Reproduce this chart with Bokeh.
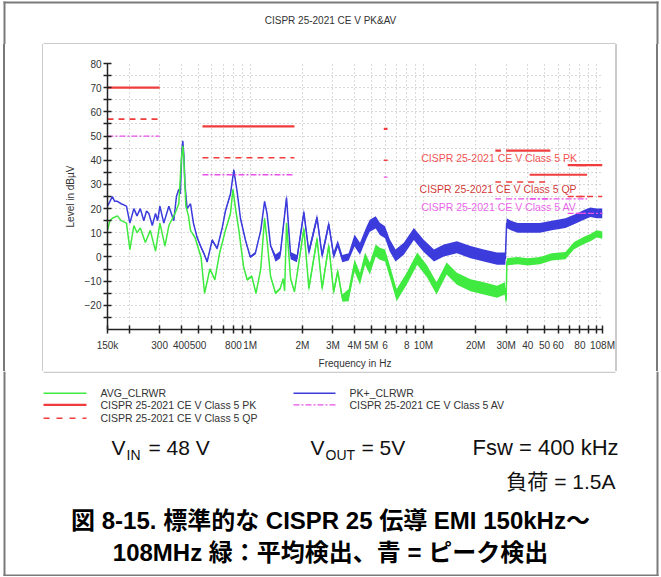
from bokeh.plotting import figure
from bokeh.models import Range1d, FixedTicker, Label, Div
from bokeh.layouts import column, row
from bokeh.core.properties import value
from bokeh.embed import file_html
from bokeh.resources import INLINE

# ---------------- data ----------------
pk_freq = [150e3,155e3,160e3,165e3,171e3,180e3,193e3,202e3,213e3,222e3,232e3,243e3,252e3,260e3,272e3,284e3,292e3,301e3,317e3,339e3,362e3,375e3,387e3,395e3,403e3,408e3,414e3,420e3,432e3,452e3,470e3,494e3,520e3,540e3,564e3,603e3,644e3,689e3,719e3,769e3,804e3,840e3,878e3,938e3,1.0e6,1.07e6,1.15e6,1.21e6,1.25e6,1.31e6,1.40e6,1.49e6,1.62e6,1.71e6,1.86e6,2.04e6,2.18e6,2.43e6,2.6e6,2.84e6,3.03e6,3.2e6,3.4e6,3.7e6,4.0e6,4.3e6,4.7e6,4.9e6,5.3e6,5.6e6,6.0e6,6.4e6,6.9e6,7.7e6,8.8e6,10.0e6,11.5e6,13.1e6,15.6e6,18.7e6,22.3e6,26.6e6,29.7e6,30.2e6,32e6,35e6,40e6,47e6,55e6,66e6,74e6,85e6,92e6,100e6,108e6]
pk_level = [21,23,25,23,23,22,21,14,20,17,20,15,19,18,13,18,15,21,14,21,15,25,28,26,44,48,42,30,20,22,14,8,4,1.5,-2,7,3.5,12,19,26,36,27,16,7,0,1.5,11,23,18,4.7,-0.5,1,24.5,0.6,-0.7,18.4,2,16.3,0.6,13.6,0.6,5.4,-0.7,0,6.8,3.4,10.2,12.9,14.3,11.6,10.2,4.7,0.6,3.4,9.5,4.7,0.6,2.7,4,2,0.6,-0.7,-0.7,14,13,12,12,12,13,14,15.5,17.5,18.5,18,18]
pk_spread = [0]*30 + [0.5]*20 + [1.5]*14 + [2.5]*19 + [2.0]*12

av_freq = [150e3,155e3,160e3,171e3,180e3,193e3,202e3,213e3,222e3,232e3,248e3,265e3,284e3,301e3,322e3,339e3,368e3,387e3,400e3,408e3,414e3,425e3,440e3,452e3,480e3,520e3,545e3,585e3,625e3,665e3,719e3,769e3,795e3,820e3,860e3,915e3,960e3,1.02e6,1.08e6,1.15e6,1.21e6,1.25e6,1.31e6,1.40e6,1.49e6,1.55e6,1.58e6,1.62e6,1.71e6,1.8e6,2.04e6,2.18e6,2.43e6,2.6e6,2.84e6,3.03e6,3.2e6,3.4e6,3.7e6,4.0e6,4.3e6,4.6e6,4.9e6,5.3e6,5.6e6,6.0e6,6.4e6,7.0e6,8.0e6,9.2e6,10.5e6,11.9e6,13.6e6,15.6e6,18.7e6,22.3e6,26.6e6,29.5e6,30.0e6,30.3e6,35e6,40e6,47e6,55e6,66e6,74e6,85e6,92e6,100e6,108e6]
av_level = [11,15,16,17,15,14,3,13,10,12,6,11,2.4,14,4.5,13,18,22,40,46,40,21,17,11,8,0,-15,-5,-9.4,1.5,11,18,28,20.6,11,-4,-9.4,-8,-15,-5,16,7,-8,-15,-13,-9,-14,14,-9,-14.4,11.6,-13,7.5,-13,4.7,-14.4,-6,-17,-15.8,-3.5,-9,-0.7,-4.8,2.7,1.3,0.6,-6,-15.8,-9,-0.7,-6,-13,-4.8,-9,-11.7,-13,-14.4,-13,-18,-2,-1.5,-2,-1.5,0,0.6,4.7,7,8,9.5,9]
av_spread = [0]*24 + [0.5]*26 + [1.5]*8 + [2.5]*21 + [1.5]*11

# limit lines (start Hz, stop Hz, dBuV)
pk_start = [150e3, 530e3, 5.9e6, 26e6, 30e6, 41e6, 68e6, 76e6]
pk_stop  = [300e3, 1.8e6, 6.2e6, 28e6, 54e6, 88e6, 87e6, 108e6]
pk_limit = [70, 54, 53, 44, 44, 34, 38, 38]
qp_start = [150e3, 530e3, 5.9e6, 26e6, 30e6, 68e6, 76e6]
qp_stop  = [300e3, 1.8e6, 6.2e6, 28e6, 54e6, 87e6, 108e6]
qp_limit = [57, 41, 40, 31, 31, 25, 25]
avl_start = [150e3, 530e3, 5.9e6, 26e6, 30e6, 41e6, 68e6, 76e6]
avl_stop  = [300e3, 1.8e6, 6.2e6, 28e6, 54e6, 88e6, 87e6, 108e6]
avl_limit = [50, 34, 33, 24, 24, 24, 18, 18]

x_ticks = [150e3,200e3,300e3,400e3,500e3,600e3,700e3,800e3,900e3,1e6,2e6,3e6,4e6,5e6,6e6,7e6,8e6,9e6,10e6,20e6,30e6,40e6,50e6,60e6,70e6,80e6,90e6,100e6,108e6]
x_tick_labels = ["150k","","300","400","500","","","800","","1M","2M","3M","4M","5M","6","","8","","10M","20M","30M","40","50","60","","80","","","108M"]
y_ticks = [-20,-10,0,10,20,30,40,50,60,70,80]
y_minor = [-25,-15,-5,5,15,25,35,45,55,65,75]

chart_title = "CISPR 25-2021 CE V PK&AV"
x_title = "Frequency in Hz"
y_title = "Level in dBµV"
lim_lab_t = ["CISPR 25-2021 CE V Class 5 PK", "CISPR 25-2021 CE V Class 5 QP", "CISPR 25-2021 CE V Class 5 AV"]
legend_names = ["AVG_CLRWR", "CISPR 25-2021 CE V Class 5 PK", "CISPR 25-2021 CE V Class 5 QP",
                "PK+_CLRWR", "CISPR 25-2021 CE V Class 5 AV"]
caption1 = "図 8-15. 標準的な CISPR 25 伝導 EMI 150kHz～"
caption2 = "108MHz 緑：平均検出、青 = ピーク検出"

GREEN = "#40ea40"
BLUE = "#3c3cdc"
RED = "#f03c3c"
DRED = "#cc2020"
MAG = "#e850e8"
TXT = "#333333"
FONT = "Liberation Sans"
CJK = "Liberation Sans, Noto Sans CJK JP"
PANEL = "#cccccc"
OUTER = "#7a7a7a"


def blank(w, h):
    f = figure(width=w, height=h, x_range=Range1d(0, w), y_range=Range1d(h, 0),
               output_backend="svg", toolbar_location=None, min_border=0,
               x_axis_location=None, y_axis_location=None)
    f.grid.visible = False
    f.outline_line_color = None
    f.background_fill_color = "white"
    f.border_fill_color = "white"
    return f


def txt(f, x, y, t, size, color=TXT, align="left", style="normal", font=FONT):
    f.text(x=[x], y=[y], text=[t], text_color=color, text_font=value(font),
           text_font_size=size, text_align=align, text_baseline="middle",
           text_font_style=style)


def seg(f, x0, y0, x1, y1, color, width=1.0, dash="solid"):
    f.segment(x0=[x0], y0=[y0], x1=[x1], y1=[y1], line_color=color,
              line_width=width, line_dash=dash)


def vstrip(w, h, lines):
    parts = ['<div style="position:relative;width:%dpx;height:%dpx;overflow:hidden;">' % (w, h)]
    for left, width, color in lines:
        parts.append('<div style="position:absolute;left:%gpx;top:0;width:%gpx;height:%dpx;background:%s;"></div>'
                     % (left, width, h, color))
    parts.append('</div>')
    return Div(text="".join(parts), width=w, height=h, margin=0)

# ---------------- top strip (page y 0..44) ----------------
top = blank(660, 44)
seg(top, 3, 2, 658, 2, OUTER, 2)
seg(top, 4, 1, 4, 44, OUTER, 2)
seg(top, 657, 1, 657, 44, OUTER, 2)
seg(top, 43, 43.3, 615, 43.3, PANEL, 1.5)
txt(top, 330, 20, chart_title, "10px", align="center")

# ---------------- side strips (page y 44..371) ----------------
lb = vstrip(43, 327, [(3, 2, OUTER), (42, 1.5, PANEL)])
rb = vstrip(45, 327, [(0, 1.5, PANEL), (41, 2, OUTER)])

# ---------------- main chart (page x 43..615) ----------------
p = figure(width=572, height=327, x_axis_type="log", output_backend="svg",
           toolbar_location=None, x_range=Range1d(150e3, 108e6), y_range=Range1d(-30, 80),
           min_border_left=64, min_border_right=13, min_border_top=19, min_border_bottom=40)
p.outline_line_color = None
p.background_fill_color = "white"
p.border_fill_color = "white"

xa = p.xaxis[0]
xa.ticker = FixedTicker(ticks=x_ticks, minor_ticks=[])
xa.major_label_overrides = {t: l for t, l in zip(x_ticks, x_tick_labels)}
ya = p.yaxis[0]
ya.ticker = FixedTicker(ticks=y_ticks, minor_ticks=y_minor)
for ax in (xa, ya):
    ax.axis_line_color = "#222222"
    ax.axis_line_width = 1.5
    ax.major_tick_line_color = "#222222"
    ax.major_tick_line_width = 1.5
    ax.major_tick_in = 4
    ax.major_tick_out = 4
    ax.minor_tick_line_color = "#222222"
    ax.minor_tick_line_width = 1.5
    ax.minor_tick_in = 4
    ax.minor_tick_out = 4
    ax.major_label_text_font = FONT
    ax.major_label_text_font_size = "10px"
    ax.major_label_text_color = TXT
    ax.axis_label_text_font = FONT
    ax.axis_label_text_font_size = "10px"
    ax.axis_label_text_font_style = "normal"
    ax.axis_label_text_color = TXT
xa.axis_label = x_title
xa.major_label_standoff = 6
xa.axis_label_standoff = 4
ya.axis_label = y_title
ya.major_label_standoff = 2
ya.axis_label_standoff = 6

p.xgrid.grid_line_color = "#b4b4b4"
p.xgrid.grid_line_dash = "1 3"
p.ygrid.grid_line_color = "#b4b4b4"
p.ygrid.grid_line_dash = "1 3"
p.ygrid.minor_grid_line_color = "#b4b4b4"
p.ygrid.minor_grid_line_dash = "1 3"

pk_lo = [l - s for l, s in zip(pk_level, pk_spread)]
pk_hi = [l + s for l, s in zip(pk_level, pk_spread)]
av_lo = [l - s for l, s in zip(av_level, av_spread)]
av_hi = [l + s for l, s in zip(av_level, av_spread)]
p.varea(x=pk_freq, y1=pk_lo, y2=pk_hi, fill_color=BLUE)
p.line(pk_freq, pk_level, line_color=BLUE, line_width=1.5)
p.varea(x=av_freq, y1=av_lo, y2=av_hi, fill_color=GREEN)
p.line(av_freq, av_level, line_color=GREEN, line_width=1.5)

p.segment(x0=pk_start, x1=pk_stop, y0=pk_limit, y1=pk_limit, line_color=RED, line_width=2.2)
p.segment(x0=qp_start, x1=qp_stop, y0=qp_limit, y1=qp_limit, line_color=RED, line_width=1.6, line_dash="6 5")
p.segment(x0=avl_start, x1=avl_stop, y0=avl_limit, y1=avl_limit, line_color=MAG, line_width=1.3, line_dash="6 2 2 2")

lim_lab_x = [9.7e6, 9.5e6, 9.7e6]
lim_lab_y = [41.0, 28.0, 20.6]
lim_lab_c = [RED, DRED, MAG]
for x, y, t, c in zip(lim_lab_x, lim_lab_y, lim_lab_t, lim_lab_c):
    p.add_layout(Label(x=x, y=y, text=t, text_color=c, text_font=FONT,
                       text_font_size="10.5px", text_baseline="middle", text_alpha=0.9))

# ---------------- bottom strip (page y 371..576) ----------------
bot = blank(660, 205)
seg(bot, 43, 0.7, 615, 0.7, PANEL, 1.5)
seg(bot, 4, 0, 4, 205, OUTER, 2)
seg(bot, 657, 0, 657, 205, OUTER, 2)
seg(bot, 3, 204, 658, 204, OUTER, 2)

leg_y = [21.7, 33.3, 46.7]
seg(bot, 43, leg_y[0], 86, leg_y[0], GREEN, 1.5)
txt(bot, 100, leg_y[0], legend_names[0], "10.5px")
seg(bot, 43, leg_y[1], 86, leg_y[1], RED, 2.2)
txt(bot, 100, leg_y[1], legend_names[1], "10.5px")
seg(bot, 43, leg_y[2], 86, leg_y[2], RED, 1.6, "6 7")
txt(bot, 100, leg_y[2], legend_names[2], "10.5px")
seg(bot, 293, leg_y[0], 335, leg_y[0], BLUE, 1.5)
txt(bot, 349, leg_y[0], legend_names[3], "10.5px")
seg(bot, 293, leg_y[1], 335, leg_y[1], MAG, 1.3, "6 2 2 2")
txt(bot, 349, leg_y[1], legend_names[4], "10.5px")

BLK = "#111111"
txt(bot, 111, 76, "V", "21px", BLK)
txt(bot, 126, 83, "IN", "14px", BLK)
txt(bot, 148, 76, "= 48 V", "21px", BLK)
txt(bot, 310, 76, "V", "21px", BLK)
txt(bot, 325, 83, "OUT", "14px", BLK)
txt(bot, 361, 76, "= 5V", "21px", BLK)
txt(bot, 472, 76, "Fsw = 400 kHz", "22px", BLK)
txt(bot, 615, 110, "負荷 = 1.5A", "21px", BLK, align="right", font=CJK)
txt(bot, 330, 149, caption1, "24px", "#000000", align="center", style="bold", font=CJK)
txt(bot, 330, 181, caption2, "24px", "#000000", align="center", style="bold", font=CJK)

layout = column(top, row(lb, p, rb), bot)
open("out.html", "w").write(file_html(layout, INLINE))
